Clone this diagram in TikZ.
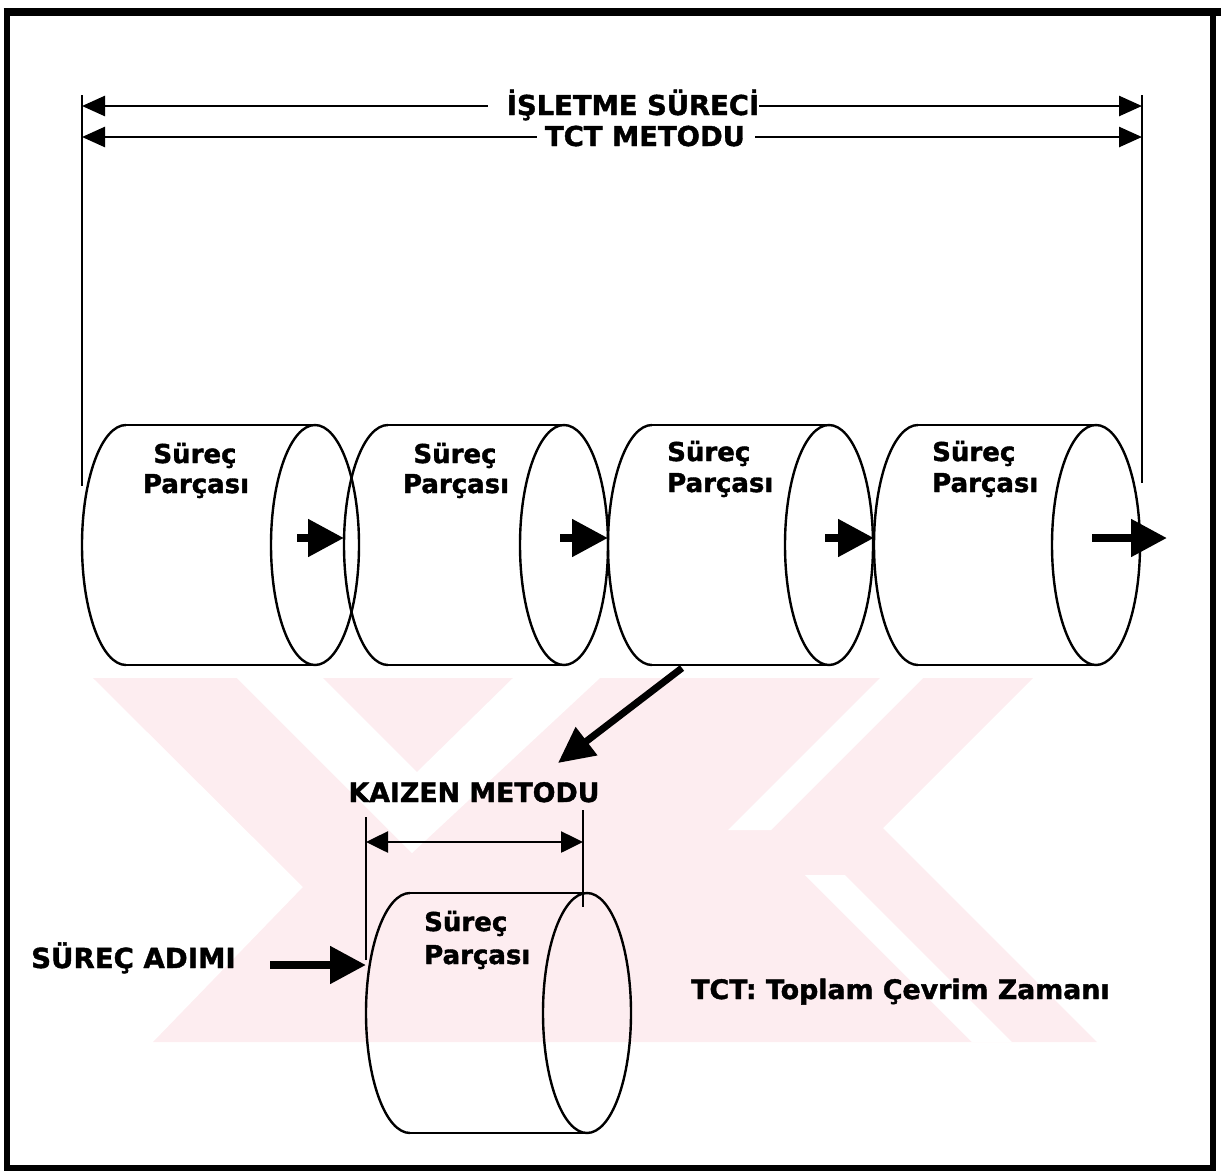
\documentclass[tikz,border=0pt]{standalone}
\usepackage{fontspec}
\setmainfont{DejaVu Sans}
\newfontfamily\lbln{DejaVu Sans Bold}[FakeBold=1.5]
\usetikzlibrary{arrows.meta,calc}
\definecolor{wm}{RGB}{253,237,240}
\tikzset{
  frame/.style={line width=6pt},
  cylline/.style={line width=2.4pt},
  extline/.style={line width=2.4pt},
  dimleft/.style={line width=2.6pt,-{Triangle[length=23pt,width=20pt]}},
  kzarrow/.style={line width=2.6pt,{Triangle[length=22pt,width=21pt]}-{Triangle[length=22pt,width=21pt]}},
  flow/.style={line width=8pt,-{Triangle[length=36pt,width=36pt]}},
  diag/.style={line width=7pt,-{Triangle[length=36pt,width=34pt]}},
  hdr/.style={font=\lbln\fontsize{27.4}{32}\selectfont,inner sep=0pt},
  cyltxt/.style={font=\lbln\fontsize{26}{30}\selectfont,inner sep=0pt},
  bigtxt/.style={font=\lbln\fontsize{26.8}{32}\selectfont,inner sep=0pt},
}
\newcommand\cylshape[3]{% #1 left-centre x, #2 right-centre x, #3 centre y
  \draw[cylline] (#1,#3-120) -- (#2,#3-120) (#1,#3+120) -- (#2,#3+120);
  \draw[cylline] (#2,#3) ellipse [x radius=44, y radius=120];
  \draw[cylline] (#1,#3+120) arc[start angle=90, end angle=270, x radius=44, y radius=120];
}
\begin{document}
\begin{tikzpicture}[x=1pt,y=-1pt]
\useasboundingbox (0,0) rectangle (1221,1173);
% faint watermark
\fill[wm] (93,678) -- (1033,678) -- (883,828) -- (1097,1042) -- (153,1042) -- (303,887) -- cycle;
\fill[white] (237,678) -- (412,853) -- (600,678) -- (513,678) -- (417,772) -- (323,678) -- cycle;
\fill[white] (880,678) -- (923,678) -- (771,830) -- (728,830) -- cycle;
\fill[white] (805,875) -- (845,875) -- (1012,1042) -- (972,1042) -- cycle;
% frame
\draw[frame] (6.5,11.5) rectangle (1213,1167.5);
\draw[line width=8pt] (3.5,11.5) -- (1221,11.5);
% cylinders (top row)
\cylshape{126}{315}{545}
\cylshape{388}{564}{545}
\cylshape{652}{829}{545}
\cylshape{918}{1096}{545}
% bottom cylinder
\cylshape{410}{587}{1013}
% cylinder labels
\node[cyltxt,anchor=base] (s1a) at (195,463) {Süreç};
\node[cyltxt,anchor=base] (s1b) at (196,493) {Parçası};
\node[cyltxt,anchor=base] (s2a) at (455,463) {Süreç};
\node[cyltxt,anchor=base] (s2b) at (456,493) {Parçası};
\node[cyltxt,anchor=base west] (s3a) at (667,461) {Süreç};
\node[cyltxt,anchor=base west] (s3b) at (667,492) {Parçası};
\node[cyltxt,anchor=base west] (s4a) at (932,461) {Süreç};
\node[cyltxt,anchor=base west] (s4b) at (932,492) {Parçası};
\node[cyltxt,anchor=base west] (s5a) at (424,931) {Süreç};
\node[cyltxt,anchor=base west] (s5b) at (424,964) {Parçası};
% flow arrows between cylinders
\coordinate (f1s) at (297,538); \coordinate (c2w) at (344,538);
\coordinate (f2s) at (560,538); \coordinate (c3w) at (608,538);
\coordinate (f3s) at (825,538); \coordinate (c4w) at (874,538);
\coordinate (f4s) at (1092,538); \coordinate (out) at (1167,538);
\draw[flow] (f1s) -- (c2w);
\draw[flow] (f2s) -- (c3w);
\draw[flow] (f3s) -- (c4w);
\draw[flow] (f4s) -- (out);
% header dimension lines
\coordinate (vlt) at (82,95);  \coordinate (vlb) at (82,486);
\coordinate (vrt) at (1142,95); \coordinate (vrb) at (1142,483);
\draw[extline] (vlt) -- (vlb);
\draw[extline] (vrt) -- (vrb);
\node[hdr,anchor=base] (isl) at (633,115) {İŞLETME SÜRECİ};
\node[hdr,anchor=base] (tctm) at (645,146) {TCT METODU};
\coordinate (a1l) at (82,106); \coordinate (a1r) at (1142,106);
\coordinate (a2l) at (82,137); \coordinate (a2r) at (1142,137);
\draw[dimleft] ($(isl.west|-a1l)+(-19,0)$) -- (a1l);
\draw[dimleft] (isl.east|-a1r) -- (a1r);
\draw[dimleft] ($(tctm.west|-a2l)+(-8,0)$) -- (a2l);
\draw[dimleft] ($(tctm.east|-a2r)+(10,0)$) -- (a2r);
% diagonal arrow to kaizen
\coordinate (dgs) at (682,668); \coordinate (dge) at (558,763);
\draw[diag] (dgs) -- (dge);
% kaizen
\node[bigtxt,anchor=base] (kz) at (474,802) {KAIZEN METODU};
\coordinate (kl1) at (366,817); \coordinate (kl2) at (366,960);
\coordinate (kr1) at (583,810); \coordinate (kr2) at (583,907);
\draw[extline] (kl1) -- (kl2);
\draw[extline] (kr1) -- (kr2);
\draw[kzarrow] (kl1|-0,842) -- (kr1|-0,842);
% surec adimi
\node[font=\lbln\fontsize{27.6}{32}\selectfont,inner sep=0pt,anchor=base west] (sa) at (31,968) {SÜREÇ ADIMI};
\coordinate (sas) at (270,965); \coordinate (c5w) at (366,965);
\draw[flow] (sas) -- (c5w);
% legend
\node[bigtxt,anchor=base west] (tct) at (691,999) {TCT: Toplam Çevrim Zamanı};
\end{tikzpicture}
\end{document}
